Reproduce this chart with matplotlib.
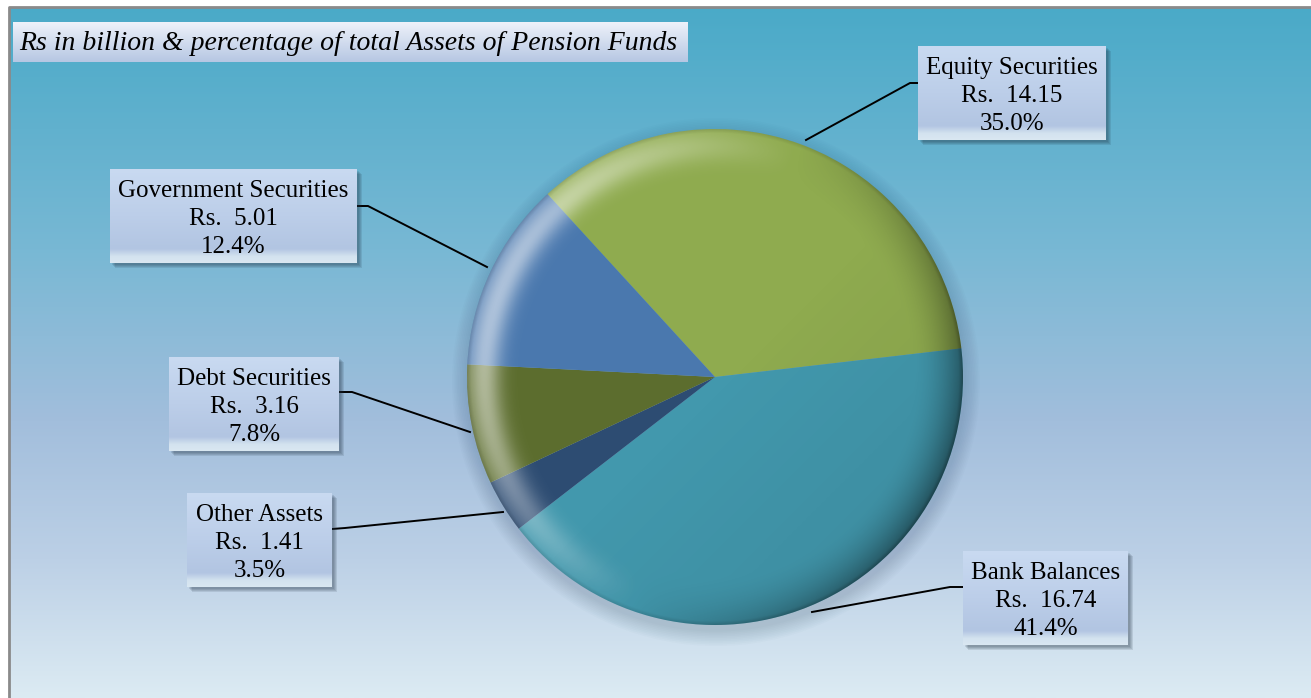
import numpy as np
import matplotlib.pyplot as plt
from matplotlib.patches import Circle, Rectangle
from matplotlib.colors import LinearSegmentedColormap

# data, in clockwise order starting from the top-left of the pie
names = ["Equity Securities", "Bank Balances", "Other Assets", "Debt Securities", "Government Securities"]
amounts = [14.15, 16.74, 1.41, 3.16, 5.01]
shares = [35.0, 41.4, 3.5, 7.8, 12.4]
slice_colors = ["#8fab4f", "#4298ad", "#2d4c72", "#5c6d2e", "#4a78ae"]

W, H = 1311, 698
fig = plt.figure(figsize=(W / 100, H / 100), dpi=100)
fig.patch.set_facecolor("white")
ax = fig.add_axes([0, 0, 1, 1])

# y goes up in the axes, so flip the picture rows
def Y(y):
    return H - y

# background gradient of the chart area
bg = LinearSegmentedColormap.from_list("bg", [
    (0.0, "#4aaac8"), (0.35, "#78b8d4"), (0.6, "#a2bedc"),
    (0.8, "#bcd0e6"), (1.0, "#dcebf3")])
grad = np.linspace(0, 1, 256).reshape(-1, 1)
ax.imshow(grad, cmap=bg, aspect="auto", extent=[9, W, 0, Y(7)], zorder=0)
ax.plot([9, 9, W], [0, Y(7), Y(7)], color="#8a8a8a", lw=2, zorder=1)

# pie with a soft shadow
cx, cy, R = 715, Y(377), 248
for i in range(10):
    ax.add_patch(Circle((cx + 1, cy - 5), R + 16 - i * 1.6, color="#2a4a6a",
                        alpha=0.02, lw=0, zorder=1))
wedges, _ = ax.pie(amounts, colors=slice_colors, startangle=132.5, counterclock=False,
                   center=(cx, cy), radius=R, wedgeprops=dict(lw=0, zorder=2))

# bevel shading on the pie: a white layer for the lit rim, a black one for the dark side
n = 600
xs = np.linspace(-1, 1, n)
gx, gy = np.meshgrid(xs, xs[::-1])
r = np.hypot(gx, gy)
ang = np.arctan2(gy, gx)
rim = np.clip((r - 0.8) / 0.2, 0, 1) ** 1.8
band = np.exp(-((r - 0.93) / 0.065) ** 2)
light = np.cos(ang - np.deg2rad(160))
lit = np.clip(light, 0, 1) * (band * 0.5 + rim * 0.1)
dark = np.clip(-light, 0, 1) * rim * 0.4 + np.clip(gx * 0.5 - gy * 0.5, 0, 1) * 0.1
dark = dark + np.clip((r - 0.985) / 0.015, 0, 1) * 0.1
for col, alpha in [(1.0, lit), (0.0, dark)]:
    layer = np.zeros((n, n, 4))
    layer[..., :3] = col
    layer[..., 3] = np.clip(alpha, 0, 1)
    im = ax.imshow(layer, extent=[cx - R, cx + R, cy - R, cy + R], zorder=3, interpolation="bilinear")
    im.set_clip_path(Circle((cx, cy), R, transform=ax.transData))

# label boxes with leader lines
box_cmap = LinearSegmentedColormap.from_list("box", [
    (0.0, "#c9daf1"), (0.5, "#bccee9"), (0.85, "#b2c5e2"), (0.93, "#d3e2ef"), (1.0, "#dae8f2")])
boxes = [(918, 46, 1106, 140), (963, 551, 1128, 645), (187, 493, 332, 587),
         (169, 357, 339, 451), (110, 169, 357, 263)]
leaders = [[(918, 83), (910, 83), (806, 140)],
           [(963, 587), (950, 587), (812, 612)],
           [(332, 529), (345, 528), (503, 512)],
           [(339, 392), (352, 392), (470, 432)],
           [(357, 206), (368, 206), (487, 267)]]

for name, amt, pct, (x0, y0, x1, y1), pts in zip(names, amounts, shares, boxes, leaders):
    ax.plot([p[0] for p in pts], [Y(p[1]) for p in pts], color="black", lw=1.4, zorder=4)
    for k in range(4):
        ax.add_patch(Rectangle((x0 + 2 + k, Y(y1) - 2 - k), x1 - x0, y1 - y0,
                               color="#203040", alpha=0.12, lw=0, zorder=4))
    ax.imshow(grad, cmap=box_cmap, aspect="auto", extent=[x0, x1, Y(y1), Y(y0)], zorder=5)
    xm = (x0 + x1) / 2
    ym = (y0 + y1) / 2 + 3
    for j, s in enumerate([name, f"Rs.  {amt:.2f}", f"{pct:.1f}%"]):
        ax.text(xm, Y(ym + (j - 1) * 28), s, ha="center", va="center",
                fontsize=18, family="Liberation Serif", zorder=6)

# title box
title_cmap = LinearSegmentedColormap.from_list("title", [(0, "#eef2fa"), (1, "#b6c7e3")])
ax.imshow(grad, cmap=title_cmap, aspect="auto", extent=[13, 688, Y(62), Y(22)], zorder=5)
ax.text(19, Y(44), "Rs in billion & percentage of total Assets of Pension Funds",
        ha="left", va="center", fontsize=20, style="italic", family="Liberation Serif", zorder=6)

ax.set_xlim(0, W)
ax.set_ylim(0, H)
ax.set_aspect("auto")
ax.axis("off")
fig.savefig("out.png", dpi=100)
